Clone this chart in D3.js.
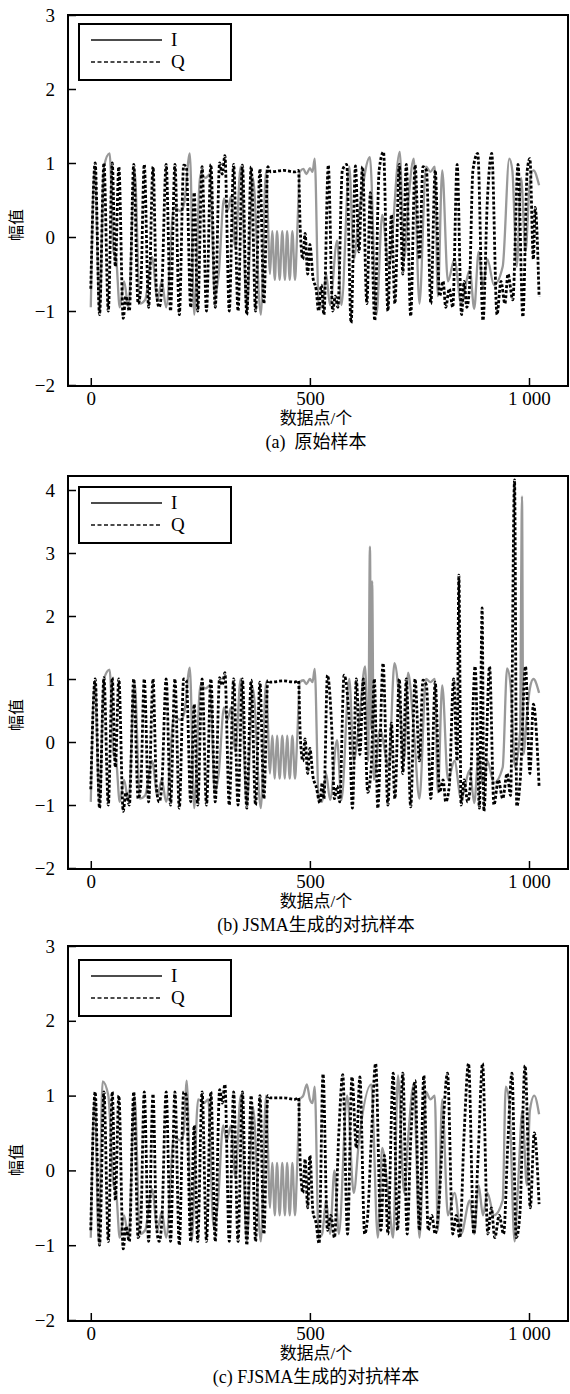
<!DOCTYPE html>
<html lang="zh">
<head>
<meta charset="UTF-8" />
<title>IQ samples</title>
<style>
  body { margin: 0; background: #fff; }
  svg { display: block; }
  text { font-family: "Liberation Serif", "Noto Sans CJK SC", serif; fill: #000; }
  .cjk { font-family: "Liberation Serif", "Noto Sans CJK SC", sans-serif; }
</style>
</head>
<body>
<div class="container"></div>
<script src="https://d3js.org/d3.v7.min.js"></script>
<script>
// ---- data: [sample index, amplitude] turning points ----
const xTicks = [0, 500, 1000];
const xTickLabels = ["0", "500", "1 000"];
const seriesNames = ["I", "Q"];
const xTitle = "数据点/个";
const yTitle = "幅值";
const captions = ["(a)  原始样本", "(b) JSMA生成的对抗样本", "(c) FJSMA生成的对抗样本"];
const yTicksA = [-2, -1, 0, 1, 2, 3];
const yTicksB = [-2, -1, 0, 1, 2, 3, 4];
const yTicksC = [-2, -1, 0, 1, 2, 3];

// (a) original sample
const iA = [[0,-0.95],[9,0.95],[20,-1.0],[30,0.95],[43,1.13],[52,-0.2],[58,-0.3],[66,-0.95],[76,-0.6],[86,-0.95],[100,0.9],[112,-0.9],[124,-0.85],[140,-0.27],[152,-0.85],[162,-0.6],[172,-0.95],[190,0.4],[205,0.35],[213,0.45],[226,1.13],[236,-1.05],[250,0.85],[262,0.8],[272,0.85],[283,-0.8],[292,-0.5],[304,0.52],[312,0.35],[320,0.55],[330,-0.15],[342,0.95],[356,-1.0],[370,0.8],[388,-1.05],[400,0.9],[409,-0.5],[414,0.08],[420,-0.58],[425,0.08],[431,-0.58],[437,0.08],[443,-0.58],[448,0.08],[454,-0.58],[460,0.08],[466,-0.58],[471,0.05],[477,0.88],[485,0.92],[492,0.85],[500,0.93],[506,0.88],[511,1.06],[520,-0.9],[528,-0.95],[537,-0.5],[546,-0.92],[562,-0.05],[572,-0.92],[590,0.95],[600,-0.3],[612,0.3],[637,1.08],[652,-1.05],[665,0.3],[680,-0.4],[705,1.15],[715,-0.3],[725,0.5],[737,1.06],[750,-0.9],[765,0.95],[775,0.88],[785,0.95],[792,-0.8],[802,0.9],[815,-0.6],[830,-0.3],[845,-0.9],[865,-0.45],[875,-0.97],[885,-0.2],[895,-0.68],[905,-0.3],[920,-0.65],[940,-0.4],[955,1.06],[962,0.9],[972,-0.4],[982,0.8],[992,-0.2],[1002,0.75],[1010,0.9],[1023,0.7]];
const qA = [[0,-0.7],[10,1.0],[20,-1.05],[30,1.0],[40,-1.0],[49,1.0],[56,-0.4],[64,0.95],[74,-1.1],[80,-0.8],[88,-1.0],[98,0.98],[108,-0.9],[114,-0.7],[122,0.98],[132,-0.95],[142,0.95],[150,-0.75],[156,-0.95],[162,-0.7],[172,0.98],[182,-1.0],[192,0.98],[202,-1.05],[212,0.97],[218,0.95],[228,-0.95],[236,0.6],[244,-1.0],[254,0.95],[264,-1.0],[274,0.98],[284,-0.95],[294,1.0],[300,0.85],[306,1.1],[316,-1.0],[326,0.98],[336,-1.0],[346,0.97],[356,-1.05],[366,0.95],[376,-1.0],[386,0.92],[395,-0.9],[404,0.95],[410,0.88],[440,0.9],[465,0.88],[474,0.9],[478,0.1],[484,-0.3],[489,0.05],[495,-0.5],[500,-0.1],[507,-0.55],[514,-0.7],[520,-1.0],[526,-0.65],[532,-1.05],[542,0.97],[552,-1.0],[558,-0.8],[564,-0.95],[574,0.9],[584,0.98],[594,-1.16],[604,0.96],[612,-0.2],[620,0.95],[630,-0.9],[638,0.6],[648,-1.13],[658,0.9],[668,1.15],[678,-1.0],[686,0.3],[694,-0.9],[704,0.98],[712,-0.5],[720,0.98],[730,-1.07],[740,0.97],[750,-0.3],[758,0.95],[766,0.9],[776,-0.9],[786,0.9],[796,-0.8],[804,-0.6],[810,-0.95],[818,-0.7],[826,-0.95],[836,0.98],[846,-1.05],[852,-0.6],[858,-0.95],[864,-0.7],[872,0.9],[883,1.13],[895,-1.13],[905,0.5],[915,1.13],[927,-1.05],[936,-0.6],[945,-0.9],[952,-0.5],[963,-0.85],[975,0.98],[986,-1.08],[996,0.9],[1002,1.06],[1010,-0.3],[1014,0.4],[1023,-0.81]];

// (b) JSMA adversarial sample
const iB = [[0,-0.95],[9,0.95],[20,-1.0],[30,1.0],[43,1.15],[52,-0.2],[58,-0.3],[66,-0.95],[76,-0.6],[86,-0.95],[100,0.95],[112,-0.9],[124,-0.85],[140,-0.3],[152,-0.85],[162,-0.6],[172,-0.95],[190,0.4],[205,0.35],[213,0.45],[226,1.18],[236,-1.05],[250,0.9],[262,0.85],[272,0.9],[283,-0.8],[292,-0.5],[304,0.55],[312,0.35],[320,0.55],[330,-0.15],[342,1.0],[356,-1.0],[370,0.85],[388,-1.05],[400,0.95],[409,-0.5],[414,0.1],[420,-0.58],[425,0.1],[431,-0.58],[437,0.1],[443,-0.58],[448,0.1],[454,-0.58],[460,0.1],[466,-0.58],[471,0.05],[477,0.95],[485,0.98],[492,0.92],[500,1.0],[506,0.95],[511,1.16],[520,-0.9],[528,-0.95],[537,-0.5],[546,-0.92],[562,0.03],[572,-0.92],[590,1.0],[600,-0.3],[612,0.3],[626,1.2],[633,-0.3],[637,3.1],[640,0.2],[642,2.55],[646,-0.6],[660,0.2],[680,-0.4],[693,1.25],[705,0.6],[715,-0.3],[724,1.1],[737,0.2],[750,-0.9],[765,1.0],[775,0.95],[785,1.0],[792,-0.8],[802,0.9],[815,-0.6],[830,-0.3],[845,-0.9],[865,-0.45],[875,-0.97],[885,-0.2],[895,-0.68],[905,-0.3],[920,-0.65],[940,-0.4],[950,1.17],[958,0.9],[968,-0.4],[980,0.2],[982,2.33],[984,3.9],[987,-0.2],[995,0.4],[1002,0.85],[1010,1.0],[1023,0.78]];
const qB = [[0,-0.75],[10,1.0],[20,-1.05],[30,1.02],[40,-1.0],[49,1.02],[56,-0.4],[64,1.0],[74,-1.1],[80,-0.8],[88,-1.0],[98,1.0],[108,-0.9],[114,-0.7],[122,1.0],[132,-0.95],[142,1.0],[150,-0.75],[156,-0.95],[162,-0.7],[172,1.0],[182,-1.0],[192,1.0],[202,-1.05],[212,1.0],[218,0.98],[228,-0.95],[236,0.6],[244,-1.0],[254,1.0],[264,-1.0],[274,1.0],[284,-0.95],[294,1.02],[300,0.9],[306,1.1],[316,-1.0],[326,1.0],[336,-1.0],[346,1.0],[356,-1.05],[366,0.98],[376,-1.0],[386,0.95],[395,-0.9],[404,0.98],[410,0.95],[440,0.97],[465,0.95],[474,0.97],[478,0.1],[484,-0.3],[489,0.05],[495,-0.5],[500,-0.1],[507,-0.55],[514,-0.7],[523,-0.97],[528,-0.65],[532,-0.9],[540,1.06],[550,0.2],[556,-0.9],[562,-0.7],[568,-0.95],[578,1.06],[590,0.3],[597,-1.05],[606,1.0],[614,-0.2],[622,1.0],[632,-0.8],[640,-0.4],[647,1.0],[655,-1.05],[667,1.25],[678,-1.0],[686,0.3],[694,-0.9],[704,1.0],[712,-0.5],[720,1.0],[730,-1.03],[740,1.0],[750,-0.3],[758,0.98],[766,0.9],[776,-0.9],[786,0.95],[796,-0.8],[804,-0.6],[810,-0.95],[818,-0.7],[828,1.0],[836,-0.3],[840,2.65],[845,-1.0],[852,-0.6],[860,-0.95],[866,-0.7],[877,1.2],[887,-1.05],[893,2.13],[897,-1.1],[910,1.2],[920,-1.0],[930,-0.6],[940,-0.9],[950,-0.5],[958,-0.85],[967,4.16],[972,-1.02],[980,-0.6],[992,1.2],[1002,-0.5],[1010,0.6],[1023,-0.7]];

// (c) FJSMA adversarial sample
const iC = [[0,-0.9],[9,1.0],[18,-0.95],[27,1.19],[40,1.0],[52,-0.2],[58,-0.3],[66,-0.9],[76,-0.6],[86,-0.9],[100,1.0],[112,-0.85],[124,-0.8],[140,-0.25],[152,-0.8],[162,-0.55],[172,-0.9],[190,0.45],[205,0.4],[212,0.5],[219,1.2],[230,-0.95],[245,0.95],[258,0.9],[268,0.95],[280,-0.75],[290,-0.45],[302,0.6],[310,0.4],[320,0.6],[330,-0.1],[342,1.0],[356,-0.95],[370,0.85],[388,-0.95],[400,1.0],[409,-0.5],[414,0.1],[420,-0.6],[425,0.1],[431,-0.6],[437,0.1],[443,-0.6],[448,0.1],[454,-0.6],[460,0.1],[466,-0.6],[471,0.05],[477,0.95],[485,1.0],[493,1.15],[500,0.95],[506,0.9],[511,1.12],[520,-0.9],[528,-0.85],[537,-0.4],[546,-0.85],[556,0.0],[566,-0.85],[585,1.0],[600,-0.3],[612,0.4],[640,1.15],[655,-0.9],[665,0.3],[680,-0.4],[690,-0.9],[701,1.27],[715,-0.3],[725,0.5],[737,1.15],[750,-0.9],[765,1.05],[775,0.95],[785,1.0],[792,-0.8],[802,0.95],[815,-0.6],[830,-0.3],[845,-0.85],[865,-0.4],[875,-0.85],[885,-0.2],[895,-0.6],[905,-0.3],[920,-0.6],[940,-0.4],[947,1.12],[955,0.9],[967,-0.95],[975,-0.2],[985,0.8],[995,-0.2],[1002,0.8],[1012,1.0],[1023,0.75]];
const qC = [[0,-0.8],[10,1.05],[20,-1.0],[30,1.05],[40,-0.95],[49,1.05],[56,-0.4],[64,1.0],[74,-1.05],[80,-0.75],[88,-0.95],[98,1.05],[108,-0.9],[114,-0.7],[122,1.05],[132,-0.95],[142,1.02],[150,-0.75],[156,-0.95],[162,-0.7],[172,1.05],[182,-0.95],[192,1.05],[202,-1.0],[212,1.05],[218,1.0],[228,-0.95],[236,0.6],[244,-0.95],[254,1.05],[264,-0.95],[274,1.05],[284,-0.95],[294,1.08],[300,0.9],[306,1.15],[316,-0.95],[326,1.05],[336,-0.95],[346,1.05],[356,-1.0],[366,1.0],[376,-0.95],[386,1.0],[395,-0.85],[404,1.0],[410,0.97],[440,0.97],[465,0.95],[474,0.97],[478,0.1],[484,-0.3],[489,0.15],[495,-0.5],[500,0.2],[507,-0.55],[514,-0.7],[521,-0.98],[530,1.29],[540,-0.8],[548,-0.6],[556,-0.9],[566,0.5],[575,1.28],[586,-0.85],[596,1.25],[606,0.3],[614,1.25],[625,-0.85],[632,-0.6],[640,0.4],[650,1.43],[662,-0.8],[670,0.2],[678,-0.85],[690,1.3],[700,-0.8],[712,1.3],[722,-0.85],[730,0.4],[740,1.2],[750,-0.8],[760,1.27],[770,-0.8],[778,-0.6],[786,-0.85],[794,-0.5],[804,0.6],[814,1.3],[826,-0.85],[834,-0.6],[842,-0.9],[852,0.5],[862,1.43],[874,-0.85],[884,0.2],[894,1.43],[906,-0.85],[914,-0.5],[922,-0.9],[932,-0.6],[942,-0.85],[952,0.4],[961,1.3],[971,-0.9],[979,-0.6],[991,1.4],[1003,-0.5],[1012,0.5],[1023,-0.45]];

// ---- layout ----
const W = 570, H = 1394;
const frameLeft = 68, frameRight = 568;
const x = d3.scaleLinear().domain([-52, 1089]).range([frameLeft, frameRight]);

const panels = [
  { i: iA, q: qA, yTicks: yTicksA, yMax: 3, frameTop: 15, yBottom: 385, caption: captions[0], yLabelY: 225, legendTop: 24 },
  { i: iB, q: qB, yTicks: yTicksB, yMax: 4, frameTop: 476, yBottom: 868, topPx: 490, caption: captions[1], yLabelY: 715, legendTop: 487 },
  { i: iC, q: qC, yTicks: yTicksC, yMax: 3, frameTop: 946, yBottom: 1320, caption: captions[2], yLabelY: 1160, legendTop: 960 }
];

const svg = d3.select(".container").append("svg")
  .attr("width", W).attr("height", H);

panels.forEach((p, k) => {
  const topPx = p.topPx || p.frameTop;
  const y = d3.scaleLinear().domain([-2, p.yMax]).range([p.yBottom, topPx]);
  const g = svg.append("g");
  const frameBottom = p.yBottom + 1;

  g.append("clipPath").attr("id", "clip" + k)
    .append("rect")
    .attr("x", frameLeft).attr("y", p.frameTop)
    .attr("width", frameRight - frameLeft).attr("height", frameBottom - p.frameTop);

  const line = d3.line()
    .x(d => x(d[0]))
    .y(d => y(d[1]))
    .curve(d3.curveMonotoneX);

  const plot = g.append("g").attr("clip-path", `url(#clip${k})`);
  plot.append("path").datum(p.i)
    .attr("d", line)
    .attr("fill", "none")
    .attr("stroke", "#999")
    .attr("stroke-width", 2.3);
  plot.append("path").datum(p.q)
    .attr("d", line)
    .attr("fill", "none")
    .attr("stroke", "#000")
    .attr("stroke-width", 2.8)
    .attr("stroke-dasharray", "3,2");

  // frame
  g.append("rect")
    .attr("x", frameLeft).attr("y", p.frameTop)
    .attr("width", frameRight - frameLeft).attr("height", frameBottom - p.frameTop)
    .attr("fill", "none").attr("stroke", "#000").attr("stroke-width", 2);

  // y axis, inward ticks
  const yAxis = d3.axisLeft(y).tickValues(p.yTicks).tickSize(-8).tickPadding(13)
    .tickFormat(d => d < 0 ? "\u2212" + Math.abs(d) : d);
  const ya = g.append("g").attr("transform", `translate(${frameLeft},0)`).call(yAxis);
  ya.select(".domain").remove();
  ya.selectAll(".tick line").attr("stroke", "#000").attr("stroke-width", 1.5);
  ya.selectAll(".tick text").attr("font-size", 19).attr("font-family", "Liberation Serif");

  // x axis, inward ticks
  const xAxis = d3.axisBottom(x).tickValues(xTicks).tickSize(-8).tickPadding(6)
    .tickFormat((d, i) => xTickLabels[i]);
  const xa = g.append("g").attr("transform", `translate(0,${frameBottom})`).call(xAxis);
  xa.select(".domain").remove();
  xa.selectAll(".tick line").attr("stroke", "#000").attr("stroke-width", 1.5);
  xa.selectAll(".tick text").attr("font-size", 19).attr("font-family", "Liberation Serif");

  // titles
  g.append("text")
    .attr("x", 316).attr("y", frameBottom + 38)
    .attr("text-anchor", "middle").attr("font-size", 17)
    .attr("class", "cjk")
    .text(xTitle);
  g.append("text")
    .attr("x", 316).attr("y", frameBottom + 62)
    .attr("text-anchor", "middle").attr("font-size", 18)
    .attr("class", "cjk")
    .attr("xml:space", "preserve")
    .style("white-space", "pre")
    .text(p.caption);
  g.append("text")
    .attr("transform", `translate(22,${p.yLabelY}) rotate(-90)`)
    .attr("text-anchor", "middle").attr("font-size", 16)
    .attr("class", "cjk")
    .text(yTitle);

  // legend
  const lg = g.append("g").attr("transform", `translate(79,${p.legendTop})`);
  lg.append("rect").attr("width", 152).attr("height", 56)
    .attr("fill", "#fff").attr("stroke", "#000").attr("stroke-width", 2);
  seriesNames.forEach((name, j) => {
    const ly = 16 + j * 22;
    lg.append("line")
      .attr("x1", 12).attr("x2", 83).attr("y1", ly).attr("y2", ly)
      .attr("stroke", "#111").attr("stroke-width", 1.3)
      .attr("stroke-dasharray", j === 1 ? "4,2.5" : null);
    lg.append("text")
      .attr("x", 92).attr("y", ly + 6)
      .attr("font-size", 19).attr("font-family", "Liberation Serif")
      .text(name);
  });
});
</script>
</body>
</html>
